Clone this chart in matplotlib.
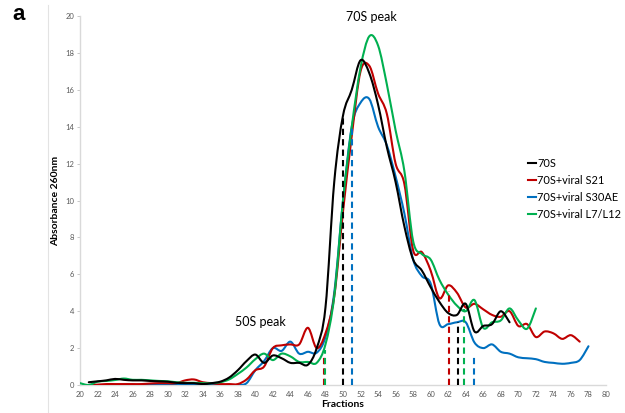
import numpy as np
import matplotlib
matplotlib.use("Agg")
import matplotlib.pyplot as plt
from matplotlib.path import Path
from matplotlib.patches import PathPatch
from matplotlib.lines import Line2D

plt.rcParams['font.family'] = ['Lato', 'DejaVu Sans']

# ---- data ----
frac_70s = list(range(21, 70))
abs_70s = [0.15, 0.2, 0.25, 0.33, 0.28, 0.25, 0.25, 0.22, 0.2, 0.18, 0.12, 0.1, 0.1, 0.05, 0.1,
           0.18, 0.4, 0.8, 1.3, 1.65, 1.2, 1.6, 1.45, 1.2, 1.2, 1.1, 2.0, 4.2, 11.0, 14.6,
           16.0, 17.6, 16.9, 15.2, 12.9, 11.0, 8.6, 6.8, 6.2, 5.3, 4.5, 3.9, 3.8, 4.4, 2.9,
           3.2, 3.3, 4.0, 3.4]

frac_s21 = list(range(21, 78))
abs_s21 = [0.0, 0.02, 0.05, 0.05, 0.05, 0.05, 0.05, 0.08, 0.1, 0.1, 0.1, 0.25, 0.3, 0.15, 0.1,
           0.05, 0.05, 0.05, 0.3, 0.8, 1.0, 2.0, 2.15, 2.2, 2.2, 3.1, 2.0, 2.8, 4.8, 9.4,
           13.5, 17.0, 17.3, 15.8, 14.7, 12.0, 10.9, 7.3, 7.2, 6.2, 4.7, 5.4, 5.0, 4.2, 4.4,
           4.1, 3.8, 3.7, 4.0, 3.2, 3.3, 2.6, 2.9, 2.8, 2.5, 2.7, 2.35]

frac_s30 = list(range(21, 79))
abs_s30 = [0.0, 0.0, 0.0, 0.0, 0.0, 0.0, 0.0, 0.0, 0.0, 0.0, 0.0, 0.0, 0.0, 0.0, 0.0,
           0.0, 0.0, 0.0, 0.1, 0.8, 1.3, 2.0, 1.85, 2.35, 1.7, 1.8, 1.75, 2.6, 5.0, 10.0,
           14.0, 15.3, 15.5, 14.0, 13.0, 11.3, 9.3, 6.8, 5.9, 5.5, 3.3, 3.3, 3.4, 3.4, 2.3,
           2.0, 2.2, 1.8, 1.7, 1.5, 1.45, 1.4, 1.25, 1.2, 1.15, 1.2, 1.35, 2.1]

frac_l7 = list(range(20, 73))
abs_l7 = [0.1, 0.0, 0.18, 0.22, 0.27, 0.35, 0.28, 0.28, 0.25, 0.22, 0.2, 0.15, 0.12, 0.12, 0.1,
          0.1, 0.15, 0.3, 0.6, 0.95, 1.4, 1.7, 1.35, 1.7, 1.55, 1.25, 1.25, 1.2, 2.2, 4.8,
          10.0, 14.0, 17.2, 18.9, 18.4, 16.3, 13.8, 11.6, 7.8, 7.1, 6.8, 5.7, 4.9, 4.3, 4.0,
          4.6, 3.1, 3.4, 3.5, 4.15, 3.5, 3.05, 4.15]

series_names = ['70S', '70S+viral S21', '70S+viral S30AE', '70S+viral L7/L12']
series_colors = ['#000000', '#c00000', '#0070c0', '#00b050']

# dashed marker lines (fraction, height)
dash_x_70s = [50.0, 63.1]
dash_h_70s = [14.5, 3.4]
dash_x_s21 = [47.8, 62.1]
dash_h_s21 = [1.5, 5.1]
dash_x_s30 = [51.0, 65.0]
dash_h_s30 = [14.1, 1.5]
dash_x_l7 = [48.0, 63.8]
dash_h_l7 = [1.9, 4.1]

x_ticks = list(range(20, 81, 2))
y_ticks = list(range(0, 21, 2))


def smooth_path(xs, ys):
    """Excel-like smoothed line: Catmull-Rom converted to cubic Bezier."""
    pts = np.column_stack([xs, ys]).astype(float)
    n = len(pts)
    verts = [pts[0]]
    codes = [Path.MOVETO]
    for i in range(n - 1):
        p0 = pts[i - 1] if i > 0 else pts[i]
        p1 = pts[i]
        p2 = pts[i + 1]
        p3 = pts[i + 2] if i + 2 < n else pts[i + 1]
        c1 = p1 + (p2 - p0) / 6.0
        c2 = p2 - (p3 - p1) / 6.0
        verts += [c1, c2, p2]
        codes += [Path.CURVE4] * 3
    return Path(verts, codes)


fig = plt.figure(figsize=(6.25, 4.13), dpi=100)
ax = fig.add_axes([80 / 625, 28 / 413, 526 / 625, 369 / 413])

all_x = [frac_70s, frac_s21, frac_s30, frac_l7]
all_y = [abs_70s, abs_s21, abs_s30, abs_l7]
dashes = [(dash_x_70s, dash_h_70s), (dash_x_s21, dash_h_s21),
          (dash_x_s30, dash_h_s30), (dash_x_l7, dash_h_l7)]

order = [2, 1, 3, 0]
for i in order:
    patch = PathPatch(smooth_path(all_x[i], all_y[i]), fill=False,
                      edgecolor=series_colors[i], lw=1.5, zorder=3, capstyle='round',
                      joinstyle='round')
    ax.add_patch(patch)

for i in range(4):
    dx, dh = dashes[i]
    for xv, hv in zip(dx, dh):
        ax.plot([xv, xv], [0, hv], color=series_colors[i], lw=1.5,
                linestyle=(0, (3, 2)), zorder=4)

ax.set_xlim(20, 80)
ax.set_ylim(0, 20)
ax.set_xticks(x_ticks)
ax.set_yticks(y_ticks)
ax.tick_params(axis='both', labelsize=5.5, colors='#595959', length=2, width=0.6,
               pad=2)
ax.tick_params(axis='x', length=0, pad=4)
for s in ['top', 'right']:
    ax.spines[s].set_visible(False)
for s in ['left', 'bottom']:
    ax.spines[s].set_color('#d9d9d9')
    ax.spines[s].set_linewidth(1.0)
ax.tick_params(axis='y', color='#bfbfbf')

ax.set_xlabel('Fractions', fontsize=7.5, fontweight='bold', labelpad=2)
ax.set_ylabel('Absorbance 260nm', fontsize=7.5, fontweight='bold', labelpad=4)

ax.text(53.2, 19.95, '70S peak', fontsize=9, ha='center', va='center', clip_on=False)
ax.text(40.6, 3.4, '50S peak', fontsize=9, ha='center', va='center')

handles = [Line2D([0], [0], color=c, lw=1.5) for c in series_colors]
leg = fig.legend(handles, series_names, loc='upper left',
                 bbox_to_anchor=(528 / 625, 1 - 158 / 413), frameon=False,
                 fontsize=7.9, handlelength=0.7, handletextpad=0.15,
                 labelspacing=0.55, borderpad=0, borderaxespad=0)

fig.text(12 / 625, 1 - 15 / 413, 'a', fontsize=16, fontweight='bold',
         family=['Liberation Sans', 'DejaVu Sans'], ha='left', va='center')
fig.add_artist(Line2D([48 / 625, 48 / 625], [0, 1 - 5 / 413], color='#e3e3e3', lw=0.8,
                      transform=fig.transFigure))

fig.savefig('out.png', dpi=100)
